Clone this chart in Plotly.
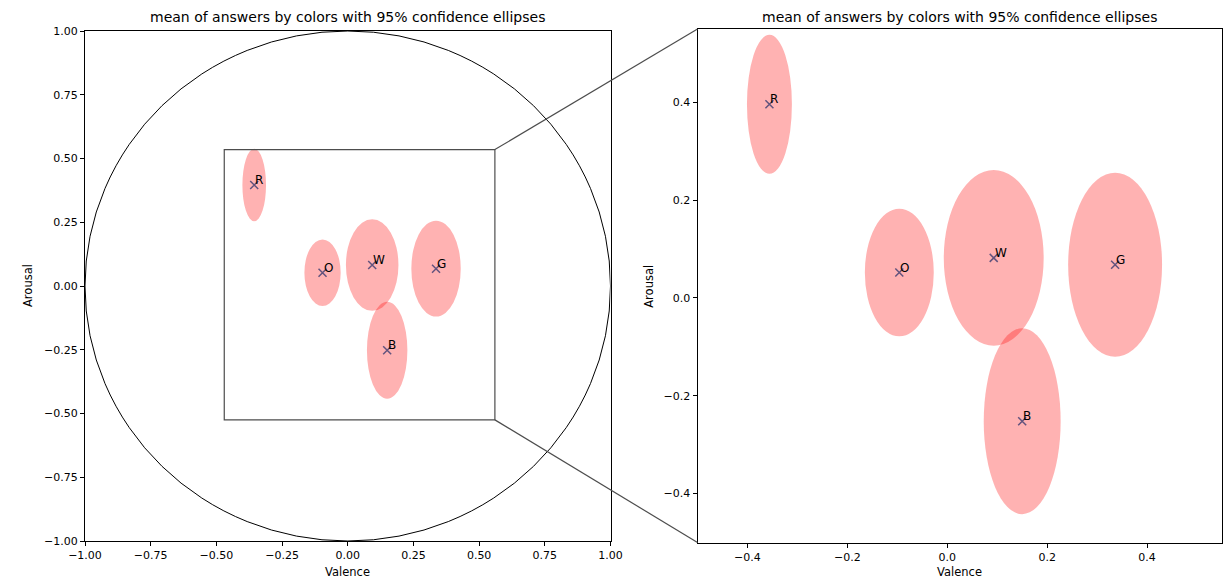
import plotly.graph_objects as go

# Mean (valence, arousal) per colour and the extents of their 95% confidence ellipses
labels = ["R", "O", "W", "G", "B"]
valence = [-0.356, -0.096, 0.093, 0.336, 0.150]
arousal = [0.396, 0.052, 0.082, 0.068, -0.252]
ellipse_width = [0.090, 0.138, 0.200, 0.188, 0.154]
ellipse_height = [0.284, 0.261, 0.359, 0.376, 0.380]

# Axis limits and ticks
full_range = [-1.0, 1.0]
zoom_range = [-0.5, 0.55]
full_ticks = [-1.0, -0.75, -0.5, -0.25, 0.0, 0.25, 0.5, 0.75, 1.0]
zoom_ticks = [-0.4, -0.2, 0.0, 0.2, 0.4]
# Region marked on the overview panel
zoom_box_x = [-0.47, 0.56]
zoom_box_y = [-0.525, 0.535]

W, H = 1230, 579
FONT = "DejaVu Sans"
TITLE = "mean of answers by colors with 95% confidence ellipses"

# Panel placement (pixels -> paper fractions)
xd1 = [85 / W, 610.5 / W]
yd1 = [1 - 541 / H, 1 - 31 / H]
xd2 = [697.5 / W, 1222 / W]
yd2 = [1 - 542.5 / H, 1 - 29 / H]


def fmt(v, nd):
    s = f"{abs(v):.{nd}f}"
    return ("\u2212" + s) if v < 0 else s


def to_paper(v, rng, dom):
    return dom[0] + (v - rng[0]) / (rng[1] - rng[0]) * (dom[1] - dom[0])


fig = go.Figure()

for xa, ya in (("x", "y"), ("x2", "y2")):
    fig.add_trace(go.Scatter(
        x=valence, y=arousal, mode="markers", xaxis=xa, yaxis=ya,
        marker=dict(symbol="x-thin", size=8, line=dict(color="#1f77b4", width=1.5)),
        hoverinfo="skip", showlegend=False,
    ))

shapes = []
annotations = []

# Unit circle on the overview panel
shapes.append(dict(type="circle", xref="x", yref="y", x0=-1, x1=1, y0=-1, y1=1,
                   line=dict(color="black", width=1), layer="above"))

# Confidence ellipses on both panels
for xr, yr in (("x", "y"), ("x2", "y2")):
    for vx, vy, w, h in zip(valence, arousal, ellipse_width, ellipse_height):
        shapes.append(dict(type="circle", xref=xr, yref=yr,
                           x0=vx - w / 2, x1=vx + w / 2, y0=vy - h / 2, y1=vy + h / 2,
                           fillcolor="rgba(255,0,0,0.3)", line=dict(width=0), layer="above"))
    for lab, vx, vy in zip(labels, valence, arousal):
        annotations.append(dict(xref=xr, yref=yr, x=vx, y=vy, text=lab, showarrow=False,
                                xanchor="left", yanchor="bottom", xshift=-1, yshift=-4,
                                font=dict(family=FONT, size=12, color="black")))

# Zoom indicator rectangle and connectors
box_col = "#4d4d4d"
shapes.append(dict(type="rect", xref="x", yref="y",
                   x0=zoom_box_x[0], x1=zoom_box_x[1], y0=zoom_box_y[0], y1=zoom_box_y[1],
                   line=dict(color=box_col, width=1.2), layer="above"))
bx = to_paper(zoom_box_x[1], full_range, xd1)
by_top = to_paper(zoom_box_y[1], full_range, yd1)
by_bot = to_paper(zoom_box_y[0], full_range, yd1)
shapes.append(dict(type="line", xref="paper", yref="paper", x0=bx, y0=by_top,
                   x1=xd2[0], y1=yd2[1], line=dict(color=box_col, width=1.2)))
shapes.append(dict(type="line", xref="paper", yref="paper", x0=bx, y0=by_bot,
                   x1=xd2[0], y1=yd2[0], line=dict(color=box_col, width=1.2)))

# Titles and axis labels
for dom in (xd1, xd2):
    cx = (dom[0] + dom[1]) / 2
    annotations.append(dict(xref="paper", yref="paper", x=cx, y=1 - 17 / H, text=TITLE,
                            showarrow=False, xanchor="center", yanchor="middle",
                            font=dict(family=FONT, size=14, color="black")))
    annotations.append(dict(xref="paper", yref="paper", x=cx, y=1 - 572 / H, text="Valence",
                            showarrow=False, xanchor="center", yanchor="middle",
                            font=dict(family=FONT, size=11.5, color="black")))
for dom, yl_x in ((yd1, 28 / W), (yd2, 649 / W)):
    annotations.append(dict(xref="paper", yref="paper", x=yl_x, y=(dom[0] + dom[1]) / 2,
                            text="Arousal", textangle=-90, showarrow=False,
                            xanchor="center", yanchor="middle",
                            font=dict(family=FONT, size=11.5, color="black")))

axis_common = dict(showline=True, mirror=True, linecolor="black", linewidth=1,
                   ticks="outside", ticklen=4, tickwidth=1, tickcolor="black",
                   showgrid=False, zeroline=False, automargin=False,
                   tickfont=dict(family=FONT, size=11, color="black"))

fig.update_layout(
    width=W, height=H,
    margin=dict(l=0, r=0, t=0, b=0, autoexpand=False),
    paper_bgcolor="white", plot_bgcolor="white",
    showlegend=False,
    xaxis=dict(domain=xd1, range=full_range, tickvals=full_ticks,
               ticktext=[fmt(v, 2) for v in full_ticks], anchor="y", **axis_common),
    yaxis=dict(domain=yd1, range=full_range, tickvals=full_ticks,
               ticktext=[fmt(v, 2) for v in full_ticks], anchor="x", **axis_common),
    xaxis2=dict(domain=xd2, range=zoom_range, tickvals=zoom_ticks,
                ticktext=[fmt(v, 1) for v in zoom_ticks], anchor="y2", **axis_common),
    yaxis2=dict(domain=yd2, range=zoom_range, tickvals=zoom_ticks,
                ticktext=[fmt(v, 1) for v in zoom_ticks], anchor="x2", **axis_common),
    shapes=shapes,
    annotations=annotations,
)

fig.write_html("out.html")
